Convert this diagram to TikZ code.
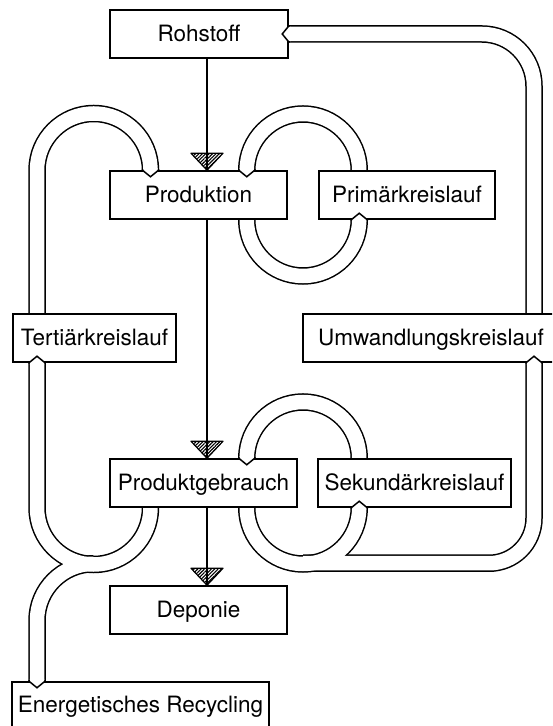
\documentclass[tikz,border=0pt]{standalone}
\usepackage{fontspec}
\setmainfont{TeX Gyre Heros}
\usetikzlibrary{patterns.meta,calc,backgrounds}
\tikzset{
  box/.style={draw, fill=white, line width=1.5pt, inner sep=0pt, minimum height=48pt,
    text height=15.5pt, text depth=0pt, font=\fontsize{22.5}{26}\selectfont},
  pipeout/.style={line width=17.5pt, draw=black},
  pipein/.style={line width=14.5pt, draw=white},
  flow/.style={line width=1.4pt},
  pipetip/.pic={
    \fill[white] (-7.1,2) -- (-7.1,0) -- (0,-6.5) -- (7.1,0) -- (7.1,2) -- cycle;
    \draw[line width=1.5pt, line join=miter] (-8,1) -- (-8,0) -- (0,-6.5) -- (8,0) -- (8,1);
  },
  hatchtri/.pic={
    \draw[line width=1.2pt, pattern={Lines[angle=45, distance=2.4pt, line width=1.1pt]}, line join=round] (-16,17) -- (16,17) -- (0,0) -- cycle;
  }
}
\newcommand\drawpipes[1]{%
  \draw[#1] (tertiaer.north -| xa) -- (produktion.north -| xa) arc[start angle=180,end angle=0,radius=56.75pt];
  \draw[#1] (primaer.north -| xd) arc[start angle=0,end angle=180,radius=56.25pt];
  \draw[#1] (produktion.south -| xc) arc[start angle=180,end angle=360,radius=56.25pt];
  \draw[#1] (sekundaer.north -| xd) arc[start angle=0,end angle=180,radius=56.25pt];
  \draw[#1] (gebrauch.south -| xc) arc[start angle=180,end angle=360,radius=56.25pt];
  \draw[#1] (sbot) -- (sbot -| ucorner) arc[start angle=270,end angle=360,radius=45pt] -- (umwandlung.south -| xe);
  \draw[#1] (umwandlung.north -| xe) -- ($(rohstoff.east -| xe)+(0,-52)$) arc[start angle=0,end angle=90,radius=52pt] -- (rohstoff.east);
  \draw[#1] (gebrauch.south -| xb) arc[start angle=0,end angle=-180,radius=56.75pt] -- (tertiaer.south -| xa);
  \draw[#1] (tbot) arc[start angle=90,end angle=180,radius=56.75pt] -- (energie.north -| xa);
}
\begin{document}
\begin{tikzpicture}[x=1pt,y=1pt]
\useasboundingbox (0,0) rectangle (552,726);
\clip (0,0) rectangle (552,726);

\coordinate (xa) at (37,0);
\coordinate (xb) at (150.5,0);
\coordinate (xc) at (246.75,0);
\coordinate (xd) at (359.25,0);
\coordinate (xe) at (534,0);
\coordinate (xarr) at (207,0);
\coordinate (ucorner) at (489,0);
\coordinate (sbot) at (303,162.75);
\coordinate (tbot) at (93.75,162.25);

\node[box, minimum width=178pt] (rohstoff) at (199,692) {Rohstoff};
\node[box, minimum width=177pt] (produktion) at (198.5,531) {Produktion};
\node[box, minimum width=176pt] (primaer) at (407,531) {Primärkreislauf};
\node[box, minimum width=163pt] (tertiaer) at (94.5,388) {Tertiärkreislauf};
\node[box, minimum width=256pt] (umwandlung) at (431,388) {Umwandlungskreislauf};
\node[box, minimum width=187pt] (gebrauch) at (203.5,243) {Produktgebrauch};
\node[box, minimum width=193pt] (sekundaer) at (414.5,243) {Sekundärkreislauf};
\node[box, minimum width=177pt] (deponie) at (198.5,116) {Deponie};
\node[box, minimum width=257pt, minimum height=46pt] (energie) at (140.5,21) {Energetisches Recycling};

\begin{scope}[on background layer]
  \fill[white] (0,0) rectangle (552,726);
  \drawpipes{pipeout}
  \drawpipes{pipein}
\end{scope}

\draw[flow] (rohstoff.south -| xarr) -- (produktion.north -| xarr);
\pic at (produktion.north -| xarr) {hatchtri};
\draw[flow] (produktion.south -| xarr) -- (gebrauch.north -| xarr);
\pic at (gebrauch.north -| xarr) {hatchtri};
\draw[flow] (gebrauch.south -| xarr) -- (deponie.north -| xarr);
\pic at (deponie.north -| xarr) {hatchtri};

\pic at (produktion.north -| xb) {pipetip};
\pic at (produktion.north -| xc) {pipetip};
\pic at (gebrauch.north -| xc) {pipetip};
\pic[rotate=180] at (primaer.south -| xd) {pipetip};
\pic[rotate=180] at (sekundaer.south -| xd) {pipetip};
\pic[rotate=180] at (tertiaer.south -| xa) {pipetip};
\pic[rotate=180] at (umwandlung.south -| xe) {pipetip};
\pic at (energie.north -| xa) {pipetip};
\pic[rotate=-90] at (rohstoff.east) {pipetip};
\end{tikzpicture}
\end{document}
